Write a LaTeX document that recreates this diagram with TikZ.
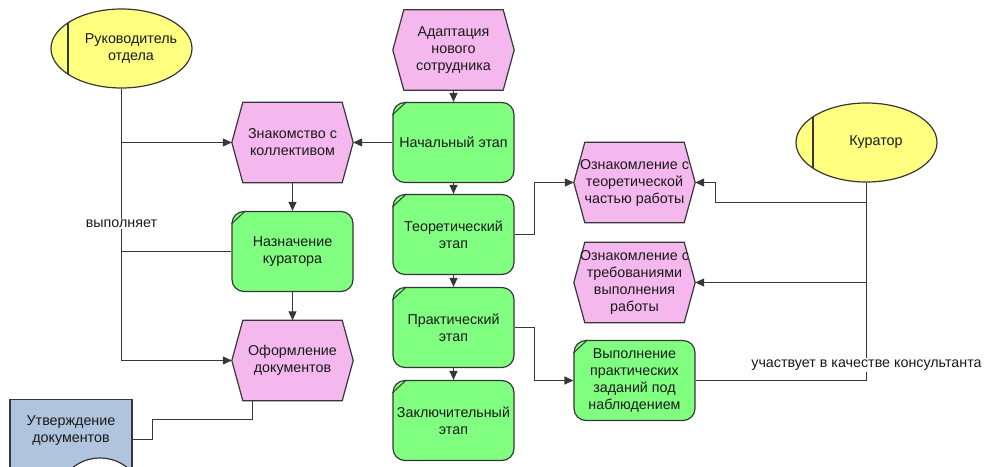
\documentclass[tikz,border=0pt]{standalone}
\usepackage{fontspec}
\setmainfont{Liberation Sans}
\usetikzlibrary{arrows.meta,shapes.geometric}
\pgfdeclarelayer{background}
\pgfsetlayers{background,main}

\definecolor{evtfill}{RGB}{245,184,238}
\definecolor{fnfill}{RGB}{128,255,128}
\definecolor{orgfill}{RGB}{255,255,128}
\definecolor{docfill}{RGB}{176,196,222}
\definecolor{edge}{RGB}{55,55,55}
\definecolor{ink}{RGB}{25,25,25}

\tikzset{
  base/.style={font=\fontsize{14.3}{17}\selectfont, text=ink, align=center, inner sep=0pt},
  evt/.style={base, minimum width=121pt, minimum height=80pt},
  evtshape/.style={draw=edge, fill=evtfill, line width=1.2pt, line join=miter},
  fn/.style={base, draw=edge, fill=fnfill, line width=1.2pt, rounded corners=12pt,
             minimum width=121pt, minimum height=80pt},
  org/.style={ellipse, draw=edge, fill=orgfill, line width=1.2pt,
              minimum width=141pt, minimum height=79pt, inner sep=0pt},
  orgtext/.style={base, xshift=9.5pt},
  docbox/.style={draw=edge, fill=docfill, line width=1.2pt,
                 minimum width=122pt, minimum height=80pt, inner sep=0pt},
  doctext/.style={base, yshift=9pt},
  conn/.style={draw=edge, line width=1.2pt},
  arr/.style={conn, -{Triangle[length=9pt,width=8pt]}},
  lbl/.style={base, fill=white, inner sep=1.5pt},
  cornerstroke/.style={draw=edge, line width=1pt},
}

% event hexagon drawn around a named text node
\newcommand\evthex[1]{%
  \begin{pgfonlayer}{background}
    \path[evtshape] (#1.west) -- ([xshift=11pt]#1.north west) -- ([xshift=-11pt]#1.north east)
      -- (#1.east) -- ([xshift=-11pt]#1.south east) -- ([xshift=11pt]#1.south west) -- cycle;
  \end{pgfonlayer}}
% corner stroke of a function box
\newcommand\fnmark[1]{\draw[cornerstroke] ([yshift=-13pt]#1.north west) -- ([xshift=14pt]#1.north west);}
% vertical stroke of an organisational unit
\newcommand\orgmark[1]{\draw[cornerstroke, line width=1.2pt] ([xshift=-53.5pt,yshift=25.5pt]#1.center) -- ([xshift=-53.5pt,yshift=-25.5pt]#1.center);}

\begin{document}
\begin{tikzpicture}[x=1pt, y=-1pt]
\useasboundingbox (0,0) rectangle (984,466);
\clip (0,0) rectangle (984,466);

% organisational units
\node[org, label={[orgtext]center:Руководитель\\отдела}] (ruk) at (121.5,48.5) {};
\orgmark{ruk}
\node[org, label={[orgtext]center:Куратор}] (kur) at (866.5,142.5) {};
\orgmark{kur}

% events
\node[evt] (adapt) at (453.5,50) {Адаптация\\нового\\сотрудника};
\evthex{adapt}
\node[evt] (znak) at (292.5,142.5) {Знакомство с\\коллективом};
\evthex{znak}
\node[evt] (oform) at (292.5,360.5) {Оформление\\документов};
\evthex{oform}
\node[evt] (ozn1) at (634.5,182.5) {Ознакомление с\\теоретической\\частью работы};
\evthex{ozn1}
\node[evt] (ozn2) at (634.5,282.5) {Ознакомление с\\требованиями\\выполнения\\работы};
\evthex{ozn2}

% functions
\node[fn] (start) at (453.5,142.5) {Начальный этап};
\fnmark{start}
\node[fn] (theor) at (453.5,234.5) {Теоретический\\этап};
\fnmark{theor}
\node[fn] (pract) at (453.5,327.5) {Практический\\этап};
\fnmark{pract}
\node[fn] (final) at (453.5,420.5) {Заключительный\\этап};
\fnmark{final}
\node[fn] (nazn) at (292.5,251.5) {Назначение\\куратора};
\fnmark{nazn}
\node[fn] (vypp) at (634.5,380.5) {Выполнение\\практических\\заданий под\\наблюдением};
\fnmark{vypp}

% document
\node[docbox, label={[doctext]center:Утверждение\\документов}] (doc) at (71,439.5) {};
\draw[draw=edge, fill=white, line width=1.2pt] (100,498) ellipse [x radius=42pt, y radius=40pt];

% control flow
\draw[arr] (adapt.south) -- (start.north);
\draw[arr] (start.south) -- (theor.north);
\draw[arr] (theor.south) -- (pract.north);
\draw[arr] (pract.south) -- (final.north);
\draw[arr] (start.west) -- (znak.east);
\draw[arr] (znak.south) -- (nazn.north);
\draw[arr] (nazn.south) -- (oform.north);
\draw[arr] (theor.east) -- ++(19.5,0) |- (ozn1.west);
\draw[arr] (pract.east) -- ++(19.5,0) |- (vypp.west);
\draw[conn] ([xshift=-40pt]oform.south) |- (152.5,419.5) |- (doc.east);

% head of department
\draw[arr] (ruk.south) |- (oform.west);
\draw[arr] (ruk.south |- znak.west) -- (znak.west);
\draw[conn] (ruk.south |- nazn.west) -- (nazn.west);
\node[lbl] (vyp) at (121.5,224) {выполняет};

% curator
\draw[conn] (kur.south) |- (vypp.east);
\draw[arr] ([yshift=-20pt]kur.south) -| ([xshift=20pt]ozn1.east) -- (ozn1.east);
\draw[arr] (kur.south |- ozn2.east) -- (ozn2.east);
\node[lbl] (uch) at (866.5,365) {участвует в качестве консультанта};
\end{tikzpicture}
\end{document}
